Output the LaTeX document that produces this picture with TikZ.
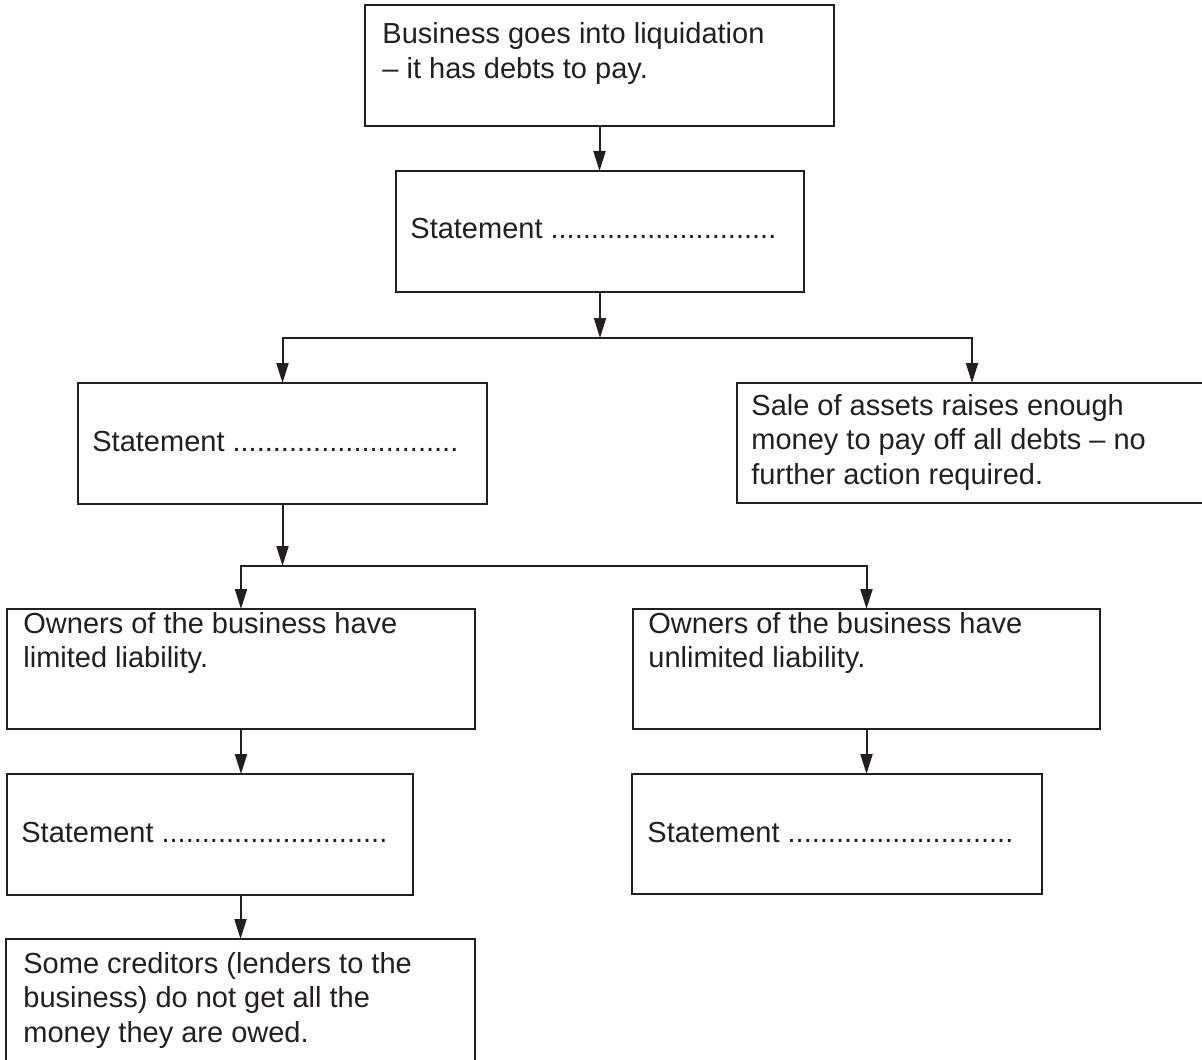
\documentclass[tikz,border=0pt]{standalone}
\usepackage{fontspec}
\setmainfont{Liberation Sans}
\usetikzlibrary{arrows.meta}
\definecolor{ink}{HTML}{231F20}
\pgfdeclarelayer{bg}
\pgfsetlayers{bg,main}
\tikzset{
        box/.style={draw=ink, line width=1.3pt, anchor=north west, inner sep=0pt, outer sep=0pt},
        txt/.style={anchor=base west, inner sep=0pt, align=left, text=ink,
                font=\fontsize{14.5pt}{17.3pt}\selectfont},
        conn/.style={draw=ink, line width=1pt, -{Triangle[length=10pt,width=6pt]}}
}

\begin{document}
\begin{tikzpicture}[x=0.5pt, y=-0.5pt]
        \useasboundingbox (0,0) rectangle (1202,1059);
        \node (n0) [box, minimum width=234.5pt, minimum height=60.5pt] at (365,5) {};
        \node (n1) [box, minimum width=204pt, minimum height=60.5pt] at (396,171) {};
        \node (n2) [box, minimum width=204.5pt, minimum height=60.5pt] at (78,383) {};
        \node (n3) [box, minimum width=235pt, minimum height=60pt] at (737,383) {};
        \node (n4) [box, minimum width=234pt, minimum height=60pt] at (7,609) {};
        \node (n5) [box, minimum width=233.5pt, minimum height=60pt] at (633,609) {};
        \node (n6) [box, minimum width=203pt, minimum height=60.5pt] at (7,774) {};
        \node (n7) [box, minimum width=205pt, minimum height=60pt] at (632,774) {};
        \node (n8) [box, minimum width=234.5pt, minimum height=65.5pt] at (6,939) {};
        % texts (multi-line ones sit on their last baseline)
        \node (t0) [txt] at (382,78.6) {Business goes into liquidation\\– it has debts to pay.};
        \node (t1) [txt] at (410,238) {Statement ............................};
        \node (t2) [txt] at (92,451) {Statement ............................};
        \node (t3) [txt] at (751,484.2) {Sale of assets raises enough\\money to pay off all debts – no\\further action required.};
        \node (t4) [txt] at (23,667.6) {Owners of the business have\\limited liability.};
        \node (t5) [txt] at (648,667.6) {Owners of the business have\\unlimited liability.};
        \node (t6) [txt] at (21,842) {Statement ............................};
        \node (t7) [txt] at (647,842) {Statement ............................};
        \node (t8) [txt] at (23,1042.2) {Some creditors (lenders to the\\business) do not get all the\\money they are owed.};
        \coordinate (j1) at (600,338);
        \coordinate (j2) at (282.5,566);
        \begin{pgfonlayer}{bg}
                \draw [conn] (n0.south) -- (n0.south |- n1.north);
                \draw [conn] (n1.south) -- (j1);
                \draw [conn] (j1) -| (n2.north);
                \draw [conn] (j1) -| (n3.north);
                \draw [conn] (n2.south) -- (j2);
                \draw [conn] (j2) -| (n4.north);
                \draw [conn] (j2) -| (n5.north);
                \draw [conn] (n4.south) -- (n4.south |- n6.north);
                \draw [conn] (n5.south) -- (n5.south |- n7.north);
                \draw [conn] (n8.north |- n6.south) -- (n8.north);
        \end{pgfonlayer}
\end{tikzpicture}
\end{document}
